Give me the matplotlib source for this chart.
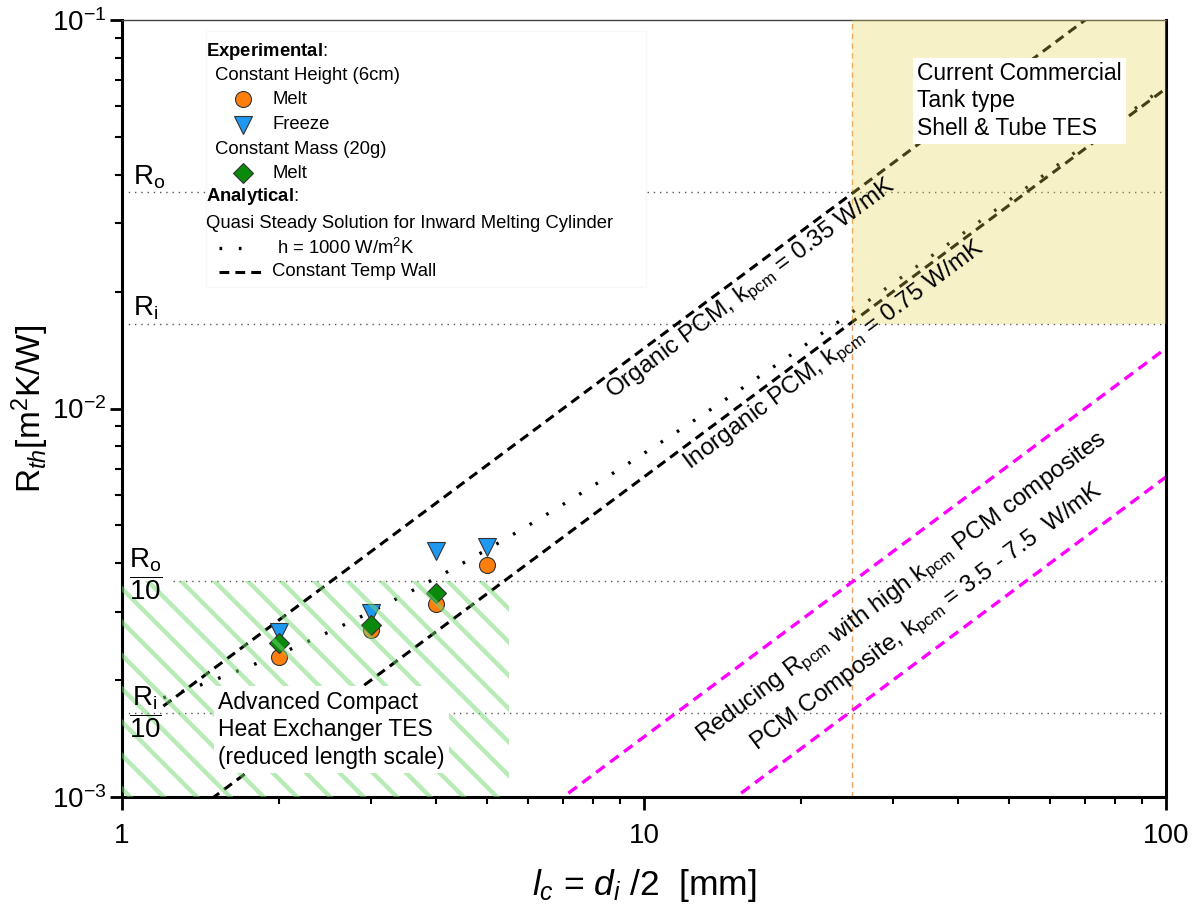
import matplotlib
matplotlib.use("Agg")
import matplotlib.pyplot as plt
import numpy as np
from matplotlib.lines import Line2D
from matplotlib.patches import Rectangle

plt.rcParams['font.family'] = ['Liberation Sans', 'DejaVu Sans']
plt.rcParams['mathtext.fontset'] = 'custom'
plt.rcParams['mathtext.rm'] = 'Liberation Sans'
plt.rcParams['mathtext.it'] = 'Liberation Sans:italic'
plt.rcParams['mathtext.bf'] = 'Liberation Sans:bold'
plt.rcParams['hatch.linewidth'] = 3.2

# measured thermal resistance [m2K/W] against characteristic length [mm]
lc_height = [2, 3, 4, 5]
melt_height = [0.00229, 0.00269, 0.00314, 0.00396]
freeze_height = [0.00266, 0.00298, 0.00430, 0.00440]
lc_mass = [2, 3, 4]
melt_mass = [0.00249, 0.00277, 0.00335]

# material / boundary parameters for the quasi steady solution
k_organic = 0.35
k_inorganic = 0.75
k_composite = [3.5, 7.5]
h_wall = 1000.0

# reference resistances of a commercial shell & tube unit
R_o = 0.036
R_i = 0.0165
lc_commercial = 25.0
lc_compact = 5.5

x_lim = (1, 100)
y_lim = (1e-3, 1e-1)

c_melt = "#ff7f0e"
c_freeze = "#1e98f0"
c_mass = "#0a8a0a"


def r_wall(lc_mm, k):
    # conduction resistance of the melt layer, lc given in mm
    return np.asarray(lc_mm) * 1e-3 / (2 * k)


fig = plt.figure(figsize=(11.92, 9.06), dpi=100)
ax = fig.add_axes([0.1024, 0.1203, 0.8758, 0.8576])
ax.set_xscale("log")
ax.set_yscale("log")
ax.set_xlim(*x_lim)
ax.set_ylim(*y_lim)

# slope of a 1:1 line on screen, used to rotate the labels
ax_w = fig.get_figwidth() * 0.8758
ax_h = fig.get_figheight() * 0.8576
ang = np.degrees(np.arctan(ax_h / ax_w))

# reference resistance levels
ref_style = dict(color="#555555", lw=1.0, ls=(0, (1, 3.5)), zorder=1)
ax.plot(x_lim, [R_o, R_o], **ref_style)
ax.plot(x_lim, [R_i, R_i], **ref_style)
ax.plot([1.25, x_lim[1]], [R_o / 10, R_o / 10], **ref_style)
ax.plot(x_lim, [R_i / 10, R_i / 10], **ref_style)
ax.axvline(lc_commercial, color="#f0a060", lw=1.0, ls=(0, (4, 3)), zorder=1)

# analytical lines
lc = np.logspace(np.log10(1.2), 2, 300)
lc_full = np.logspace(0, 2, 300)
dash = (0, (3.2, 2.0))
ax.plot(lc, r_wall(lc, k_organic), color="black", lw=2.2, ls=dash, zorder=2)
ax.plot(lc_full, r_wall(lc_full, k_inorganic), color="black", lw=2.2, ls=dash, zorder=2)
ax.plot(lc, 1 / h_wall + r_wall(lc, k_inorganic), color="black", lw=2.4,
        ls=(0, (0.8, 5.0)), zorder=2)
for k in k_composite:
    ax.plot(lc_full, r_wall(lc_full, k), color="magenta", lw=2.4, ls=dash, zorder=2)

# experiments
mk = dict(ls="none", mec="#333333", mew=0.8, zorder=3)
ax.plot(lc_height, melt_height, marker="o", ms=11.5, mfc=c_melt, **mk)
ax.plot(lc_height, freeze_height, marker="v", ms=13, mfc=c_freeze, **mk)
ax.plot(lc_mass, melt_mass, marker="D", ms=10, mfc=c_mass, **mk)

# design regions
ax.fill_between([lc_commercial, x_lim[1]], R_i, y_lim[1], color="#e6d24a",
                alpha=0.3, lw=0, zorder=4)
ax.fill_between([x_lim[0], lc_compact], y_lim[0], R_o / 10, facecolor="none",
                edgecolor=(0.45, 0.85, 0.45, 0.5), hatch="\\", lw=0, zorder=4)

# level labels
ax.text(1.05, R_o * 1.01, "R$_\\mathregular{o}$", fontsize=20, va="bottom", ha="left", zorder=6)
ax.text(1.05, R_i * 1.01, "R$_\\mathregular{i}$", fontsize=20, va="bottom", ha="left", zorder=6)
ax.text(1.03, R_o / 10 * 1.04, "$\\dfrac{\\mathregular{R_o}}{\\mathregular{10}}$", fontsize=20,
        va="center", ha="left", zorder=6)
ax.text(1.03, R_i / 10, "$\\dfrac{\\mathregular{R_i}}{\\mathregular{10}}$", fontsize=20,
        va="center", ha="left", zorder=6)

# region captions
box = dict(facecolor="white", edgecolor="none", pad=3)
ax.text(0.7615, 0.946, "Current Commercial\nTank type\nShell & Tube TES", transform=ax.transAxes,
        fontsize=16.5, va="top", ha="left", linespacing=1.25, bbox=box, zorder=6)
ax.text(0.092, 0.137, "Advanced Compact\nHeat Exchanger TES\n(reduced length scale)",
        transform=ax.transAxes, fontsize=16.5, va="top", ha="left", linespacing=1.25,
        bbox=box, zorder=6)

# line captions, sitting just under their lines
rot = dict(rotation=ang, rotation_mode="anchor", ha="center", va="center", fontsize=17.5, zorder=6)
ax.text(16.1, 0.88 * r_wall(16.1, k_organic), "Organic PCM, k$_{\\mathregular{pcm}}$ = 0.35 W/mK", **rot)
ax.text(23.2, 0.88 * r_wall(23.2, k_inorganic), "Inorganic PCM, k$_{\\mathregular{pcm}}$ = 0.75 W/mK", **rot)
ax.text(31.2, 0.00345, "Reducing R$_{\\mathregular{pcm}}$ with high k$_{\\mathregular{pcm}}$ PCM composites", **rot)
ax.text(34.9, 0.0029, "PCM Composite, k$_{\\mathregular{pcm}}$ = 3.5 - 7.5  W/mK", **rot)

# legend block
tr = ax.transAxes
ax.add_patch(Rectangle((0.0805, 0.656), 0.4215, 0.33, transform=tr, facecolor="white",
                       edgecolor="#f7f7f7", lw=1, zorder=5))
lf = 13.3
ax.text(0.0805, 0.959, "$\\mathbf{Experimental}$:", transform=tr, fontsize=lf, va="center", zorder=6)
ax.text(0.0891, 0.929, "Constant Height (6cm)", transform=tr, fontsize=lf, va="center", zorder=6)
ax.text(0.0891, 0.834, "Constant Mass (20g)", transform=tr, fontsize=lf, va="center", zorder=6)
ax.text(0.0805, 0.7735, "$\\mathbf{Analytical}$:", transform=tr, fontsize=lf, va="center", zorder=6)
ax.text(0.0805, 0.7375, "Quasi Steady Solution for Inward Melting Cylinder", transform=tr,
        fontsize=lf, va="center", zorder=6)
for yy, m, c, s, lab in [(0.898, "o", c_melt, 11.5, "Melt"), (0.865, "v", c_freeze, 13, "Freeze"),
                         (0.803, "D", c_mass, 10, "Melt")]:
    ax.add_line(Line2D([0.1159], [yy], transform=tr, marker=m, ms=s, mfc=c, ls="none",
                       mec="#333333", mew=0.8, zorder=6))
    ax.text(0.1437, yy, lab, transform=tr, fontsize=lf, va="center", zorder=6)
ax.add_line(Line2D([0.093, 0.128], [0.7066, 0.7066], transform=tr, color="black", lw=2.4,
                   ls=(0, (0.8, 5.0)), zorder=6))
ax.text(0.1485, 0.7066, "h = 1000 W/m$^\\mathregular{2}$K", transform=tr, fontsize=lf, va="center", zorder=6)
ax.add_line(Line2D([0.093, 0.1375], [0.6757, 0.6757], transform=tr, color="black", lw=2.2,
                   ls=dash, zorder=6))
ax.text(0.1437, 0.6757, "Constant Temp Wall", transform=tr, fontsize=lf, va="center", zorder=6)

# axes styling
for s in ["left", "bottom", "right"]:
    ax.spines[s].set_linewidth(2.2)
ax.spines["top"].set_linewidth(1.0)
ax.spines["top"].set_color("#444444")
ax.tick_params(which="major", length=9, width=2, labelsize=20, direction="out",
               top=False, right=False)
ax.tick_params(which="minor", length=5, width=1.5, direction="out", top=False, right=False)
ax.tick_params(axis="x", which="major", pad=10)
ax.tick_params(axis="y", which="major", pad=2)
ax.xaxis.set_major_formatter(matplotlib.ticker.FuncFormatter(lambda v, p: f"{v:g}"))
ax.yaxis.set_minor_formatter(matplotlib.ticker.NullFormatter())
ax.xaxis.set_minor_formatter(matplotlib.ticker.NullFormatter())

ax.set_ylabel("R$_{th}$[m$^\\mathregular{2}$K/W]", fontsize=24)
ax.yaxis.set_label_coords(-0.068, 0.5)
ax.set_xlabel("$l_c$ = $d_i$ /2  [mm]", fontsize=25.5)
ax.xaxis.set_label_coords(0.5, -0.09)

fig.savefig("out.png", dpi=100)
